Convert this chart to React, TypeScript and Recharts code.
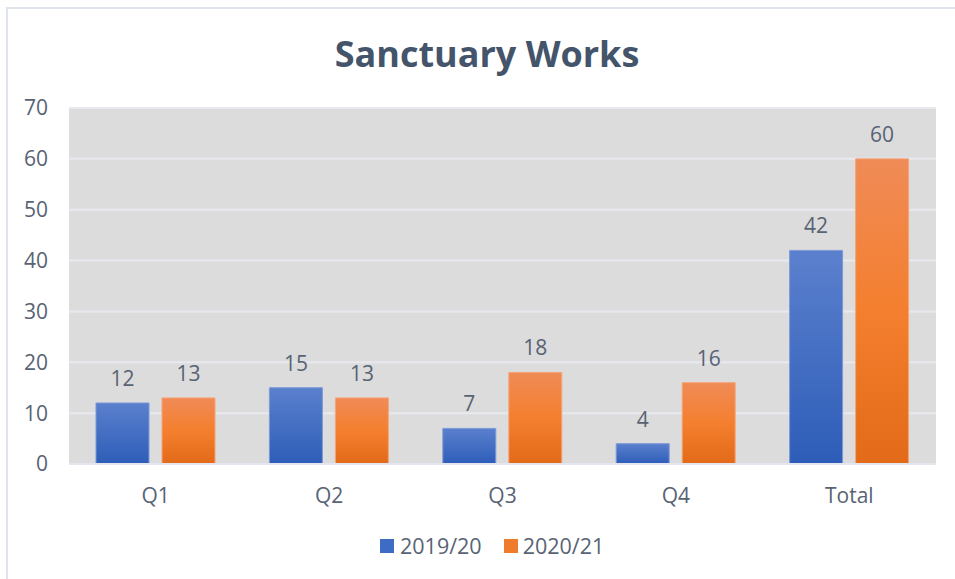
import React from 'react'
import { BarChart, Bar, XAxis, YAxis, CartesianGrid, LabelList } from 'recharts'

const quarters = ['Q1', 'Q2', 'Q3', 'Q4', 'Total']
const works1920 = [12, 15, 7, 4, 42]
const works2021 = [13, 13, 18, 16, 60]
const yTicks = [0, 10, 20, 30, 40, 50, 60, 70]

const data = quarters.map((q, i) => ({ quarter: q, a: works1920[i], b: works2021[i] }))

const FONT = '"Open Sans", sans-serif'
const TEXT = '#586374'

const App: React.FC = () => (
  <div style={{ position: 'absolute', left: 0, top: 0, width: 955, height: 579, overflow: 'hidden', background: '#fff', fontFamily: FONT }}>
    <div style={{ position: 'absolute', left: 6, top: 7, width: 1000, height: 700, border: '2px solid #dfe4ec' }} />
    <div style={{ position: 'absolute', left: 287, top: 29, width: 400, lineHeight: '49px', textAlign: 'center', fontSize: 36, fontWeight: 700, color: '#44546a' }}>
      Sanctuary Works
    </div>
    <div style={{ position: 'absolute', left: 0, top: 0 }}>
      <BarChart width={955} height={579} data={data} margin={{ top: 108, right: 19, bottom: 75, left: 19 }} barSize={53} barGap={13}>
        <defs>
          <linearGradient id="gBlue" x1="0" y1="0" x2="0" y2="1">
            <stop offset="0%" stopColor="#5b80cd" />
            <stop offset="100%" stopColor="#2d5db8" />
          </linearGradient>
          <linearGradient id="gOrange" x1="0" y1="0" x2="0" y2="1">
            <stop offset="0%" stopColor="#f08b57" />
            <stop offset="50%" stopColor="#f47f2e" />
            <stop offset="100%" stopColor="#e26a18" />
          </linearGradient>
        </defs>
        <CartesianGrid vertical={false} fill="#dcdcdc" stroke="#e8e9ef" strokeWidth={2} />
        <XAxis dataKey="quarter" height={40} axisLine={{ stroke: '#e3e6ee', strokeWidth: 2 }} tickLine={false} tickSize={0} tickMargin={24}
          tick={{ fill: TEXT, fontSize: 21, fontFamily: FONT }} />
        <YAxis width={50} domain={[0, 70]} ticks={yTicks} axisLine={false} tickLine={false} tickSize={0} tickMargin={21}
          tick={{ fill: TEXT, fontSize: 21, fontFamily: FONT }} />
        <Bar dataKey="a" name="2019/20" fill="url(#gBlue)" stroke="#7d9ad8" strokeWidth={1} isAnimationActive={false}>
          <LabelList dataKey="a" position="top" offset={17} fill={TEXT} fontSize={21} fontFamily={FONT} />
        </Bar>
        <Bar dataKey="b" name="2020/21" fill="url(#gOrange)" stroke="#f4a57a" strokeWidth={1} isAnimationActive={false}>
          <LabelList dataKey="b" position="top" offset={17} fill={TEXT} fontSize={21} fontFamily={FONT} />
        </Bar>
      </BarChart>
    </div>
    <div style={{ position: 'absolute', left: 380, top: 531, display: 'flex', alignItems: 'center', fontSize: 21.5, color: TEXT, lineHeight: '29px' }}>
      <span style={{ width: 14, height: 14, background: '#3d6cc4', display: 'inline-block', marginRight: 6 }} />
      <span style={{ marginRight: 22 }}>2019/20</span>
      <span style={{ width: 14, height: 14, background: '#ef7b2c', display: 'inline-block', marginRight: 5 }} />
      <span>2020/21</span>
    </div>
  </div>
)

export default App
